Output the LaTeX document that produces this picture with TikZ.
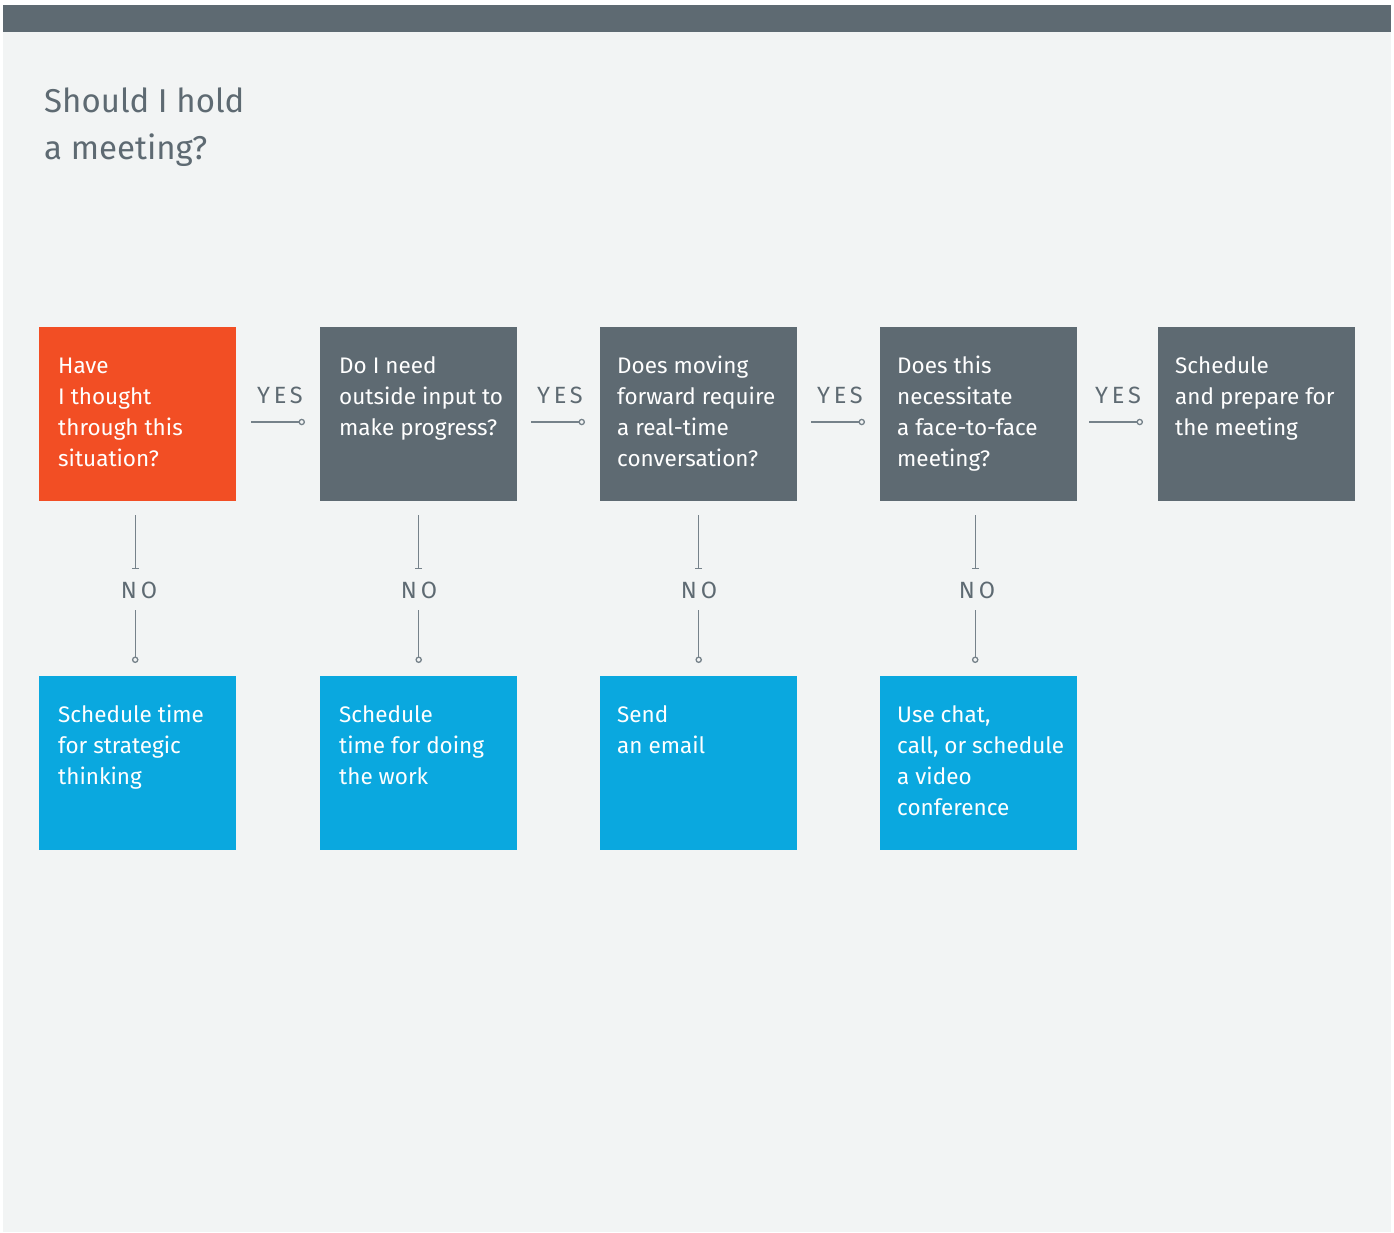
\documentclass[tikz,border=0pt]{standalone}
\usepackage{fontspec}
\setmainfont{Fira Sans}
\newfontfamily\spacedfont[LetterSpace=16]{Fira Sans}
\usetikzlibrary{arrows.meta,calc}
\definecolor{bgc}{HTML}{F2F4F4}
\definecolor{slate}{HTML}{5E6A72}
\definecolor{linec}{HTML}{76828A}
\definecolor{orangec}{HTML}{F24E24}
\definecolor{bluec}{HTML}{0AA8DF}
\tikzset{
  qbox/.style={anchor=north west, minimum width=197pt, minimum height=174pt, inner sep=0pt, draw=none},
  boxtext/.style={anchor=base west, inner sep=0pt, text=white, font=\fontsize{22.5}{31}\selectfont},
  lbl/.style={inner sep=0pt, text=slate, font=\spacedfont\fontsize{23.5}{23.5}\selectfont},
  conn/.style={draw=linec, line width=1.3pt},
  ctip/.style={-{Circle[open, length=6.5pt, width=6.5pt, fill=bgc]}},
  btip/.style={-{Bar[width=7pt, line width=1.3pt]}}
}
\begin{document}
\begin{tikzpicture}[x=1pt, y=-1pt]
\useasboundingbox (0,0) rectangle (1394,1232);
\fill[white] (0,0) rectangle (1394,1232);
\fill[bgc] (3,5) rectangle (1391,1232);
\fill[slate] (3,5) rectangle (1391,32);
\node[anchor=base west, inner sep=0pt, text=slate, font=\fontsize{33}{47}\selectfont] (title) at (44,112)
  {\parbox[t]{320pt}{Should I hold\\a meeting?}};

% question boxes
\node[qbox, fill=orangec] (q1) at (39,327) {};
\node[qbox, fill=slate] (q2) at (320,327) {};
\node[qbox, fill=slate] (q3) at (600,327) {};
\node[qbox, fill=slate] (q4) at (880,327) {};
\node[qbox, fill=slate] (q5) at (1158,327) {};
% answer boxes
\node[qbox, fill=bluec] (a1) at (39,676) {};
\node[qbox, fill=bluec] (a2) at (320,676) {};
\node[qbox, fill=bluec] (a3) at (600,676) {};
\node[qbox, fill=bluec] (a4) at (880,676) {};

% texts
\node[boxtext] (tq1) at ($(q1.north west)+(19,46)$) {\parbox[t]{185pt}{Have\\I thought\\through this\\situation?}};
\node[boxtext] (tq2) at ($(q2.north west)+(19,46)$) {\parbox[t]{185pt}{Do I need\\outside input to\\make progress?}};
\node[boxtext] (tq3) at ($(q3.north west)+(17,46)$) {\parbox[t]{185pt}{Does moving\\forward require\\a real-time\\conversation?}};
\node[boxtext] (tq4) at ($(q4.north west)+(17,46)$) {\parbox[t]{185pt}{Does this\\necessitate\\a face-to-face\\meeting?}};
\node[boxtext] (tq5) at ($(q5.north west)+(17,46)$) {\parbox[t]{185pt}{Schedule\\and prepare for\\the meeting}};
\node[boxtext] (ta1) at ($(a1.north west)+(19,46)$) {\parbox[t]{185pt}{Schedule time\\for strategic\\thinking}};
\node[boxtext] (ta2) at ($(a2.north west)+(19,46)$) {\parbox[t]{185pt}{Schedule\\time for doing\\the work}};
\node[boxtext] (ta3) at ($(a3.north west)+(17,46)$) {\parbox[t]{185pt}{Send\\an email}};
\node[boxtext] (ta4) at ($(a4.north west)+(17,46)$) {\parbox[t]{185pt}{Use chat,\\call, or schedule\\a video\\conference}};

% YES labels and connectors
\node[lbl] (y1) at (280,395) {YES};
\node[lbl] (y2) at (560,395) {YES};
\node[lbl] (y3) at (840,395) {YES};
\node[lbl] (y4) at (1118,395) {YES};
\draw[conn, ctip, shorten <=15pt, shorten >=15pt] (q1.east |- 0,422) -- (q2.west |- 0,422);
\draw[conn, ctip, shorten <=14pt, shorten >=15pt] (q2.east |- 0,422) -- (q3.west |- 0,422);
\draw[conn, ctip, shorten <=14pt, shorten >=15pt] (q3.east |- 0,422) -- (q4.west |- 0,422);
\draw[conn, ctip, shorten <=12pt, shorten >=15pt] (q4.east |- 0,422) -- (q5.west |- 0,422);

% NO labels and connectors
\node[lbl] (n1) at (139,590) {NO};
\node[lbl] (n2) at (419,590) {NO};
\node[lbl] (n3) at (699,590) {NO};
\node[lbl] (n4) at (977,590) {NO};
\foreach \q/\a/\dx in {q1/a1/-2.5, q2/a2/0, q3/a3/0, q4/a4/-3.5} {
  \draw[conn, btip] ($(\q.south)+(\dx,14)$) -- ($(\q.south)+(\dx,68)$);
  \draw[conn, ctip] ($(\a.north)+(\dx,-66)$) -- ($(\a.north)+(\dx,-13)$);
}
\end{tikzpicture}
\end{document}
